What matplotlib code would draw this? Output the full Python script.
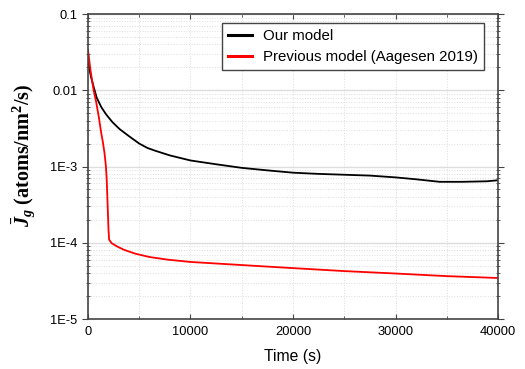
import numpy as np
import matplotlib.pyplot as plt
from matplotlib.ticker import FixedLocator, FixedFormatter, LogLocator, MultipleLocator, NullFormatter

# data
t_ours = [0, 150, 350, 600, 850, 1300, 1780, 2400, 3080, 4000, 5000, 5800, 6500,
          7970, 10000, 12500, 15000, 17500, 20000, 22500, 25000, 27500, 30000,
          32000, 34300, 36500, 38900, 40000]
j_ours = [0.024, 0.0185, 0.0140, 0.0105, 0.0080, 0.0060, 0.0048, 0.0038, 0.0031,
          0.0025, 0.0020, 0.00175, 0.00162, 0.0014, 0.00120, 0.00107, 0.00096,
          0.00089, 0.00083, 0.00080, 0.00078, 0.00076, 0.00072, 0.00068, 0.00063,
          0.00063, 0.00064, 0.00066]

t_prev = [0, 250, 550, 800, 1050, 1300, 1450, 1620, 1750, 1830, 1920, 2000, 2060,
          2300, 2800, 3500, 4600, 6000, 7800, 10000, 15000, 20000, 25000, 30000,
          35000, 40000]
j_prev = [0.034, 0.018, 0.010, 0.0070, 0.0045, 0.0027, 0.0021, 0.00147, 0.0010,
          0.00066, 0.00030, 0.00015, 0.00011, 0.000099, 0.00009, 0.000081, 0.000072,
          0.000065, 0.00006, 0.000056, 0.000051, 0.0000465, 0.0000425, 0.0000395,
          0.0000365, 0.0000345]

y_ticks = [1e-5, 1e-4, 1e-3, 1e-2, 1e-1]
y_labels = ['1E-5', '1E-4', '1E-3', '0.01', '0.1']

plt.rcParams['font.family'] = 'Liberation Sans'
plt.rcParams['mathtext.fontset'] = 'custom'
plt.rcParams['mathtext.it'] = 'Liberation Serif:bold:italic'
plt.rcParams['mathtext.rm'] = 'Liberation Serif:bold'

fig = plt.figure(figsize=(5.25, 3.69), dpi=100)
ax = fig.add_axes([0.1676, 0.1355, 0.781, 0.8265])

ax.plot(t_ours, j_ours, color='black', lw=1.3, label='Our model')
ax.plot(t_prev, j_prev, color='red', lw=1.3, label='Previous model (Aagesen 2019)')

ax.set_yscale('log')
ax.set_xlim(0, 40000)
ax.set_ylim(1e-5, 0.1)

ax.yaxis.set_major_locator(FixedLocator(y_ticks))
ax.yaxis.set_major_formatter(FixedFormatter(y_labels))
ax.yaxis.set_minor_locator(LogLocator(base=10, subs=np.arange(2, 10)))
ax.yaxis.set_minor_formatter(NullFormatter())
ax.xaxis.set_major_locator(MultipleLocator(10000))
ax.xaxis.set_minor_locator(MultipleLocator(5000))

ax.grid(which='major', axis='y', color='#dddddd', lw=1.0, ls='-')
ax.grid(which='minor', axis='y', color='#dddddd', lw=0.7, ls=':')
ax.grid(which='both', axis='x', color='#dddddd', lw=0.7, ls=':')
ax.set_axisbelow(True)

for s in ax.spines.values():
    s.set_color('#444444')
    s.set_linewidth(1.2)
ax.tick_params(which='both', labelsize=9.3, color='#444444', top=True, right=True)
ax.tick_params(axis='x', which='both', direction='in', pad=5)
ax.tick_params(axis='y', which='major', direction='out', length=4)
ax.tick_params(axis='y', which='minor', direction='inout', length=3)

ax.set_xlabel('Time (s)', fontsize=11.3, labelpad=8)
ax.set_ylabel(r'$\bar{J}_g$ (atoms/nm$^2$/s)', fontsize=14.5, fontweight='bold',
              family='Liberation Serif')
ax.yaxis.set_label_coords(-0.121, 0.538)

leg = ax.legend(loc='upper right', bbox_to_anchor=(0.973, 0.98), fontsize=10.8,
                fancybox=False, edgecolor='#444444', framealpha=1,
                handlelength=1.6, handletextpad=0.7, borderpad=0.4,
                labelspacing=0.45, borderaxespad=0.2)
leg.get_frame().set_linewidth(1.0)
for line in leg.get_lines():
    line.set_linewidth(2.2)

fig.savefig('out.png', dpi=100)
